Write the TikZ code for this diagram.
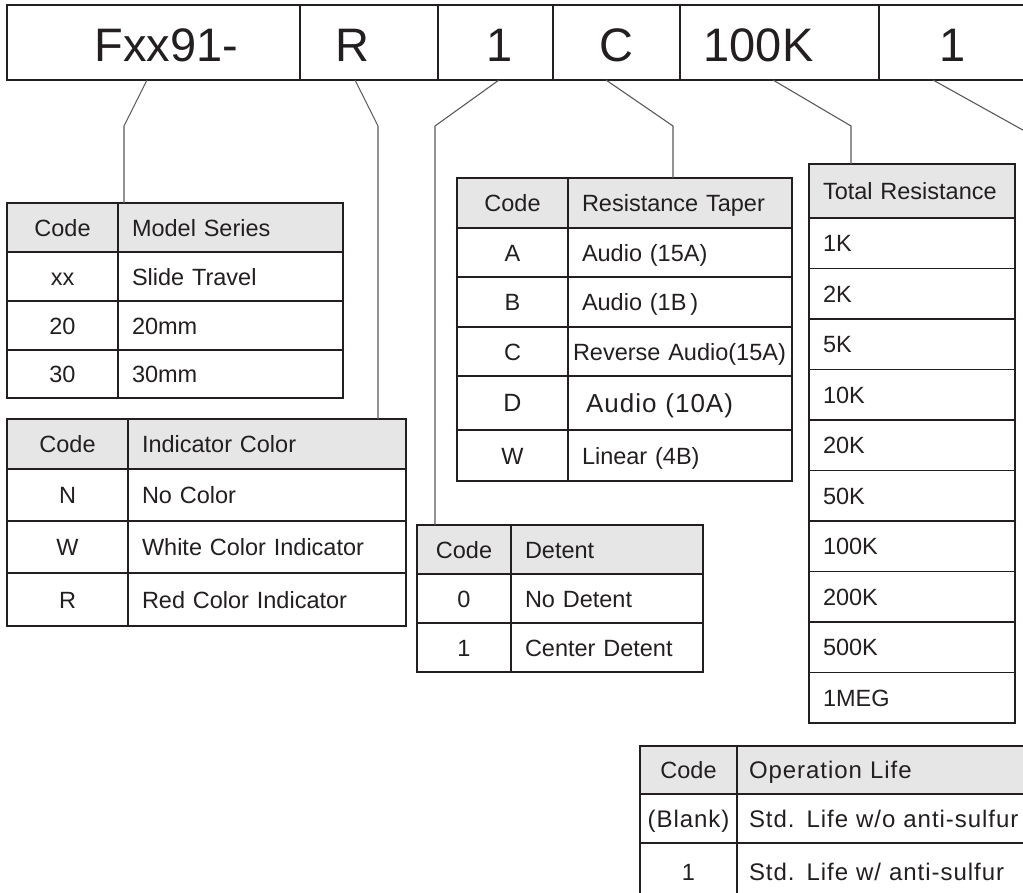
\documentclass[tikz,border=0pt]{standalone}
\usepackage{fontspec}
\setmainfont{Liberation Sans}
\newfontfamily\spacedfont[LetterSpace=4]{Liberation Sans}
\usetikzlibrary{positioning}
\definecolor{inkcol}{HTML}{231F20}
\definecolor{hdrcol}{HTML}{E6E6E6}
\definecolor{linkcol}{HTML}{5A5A5A}

\begin{document}
\begin{tikzpicture}[
  x=1pt, y=-1pt,
  seg/.style={draw=inkcol, line width=2.2pt, anchor=north west, inner sep=0pt,
    outer sep=0pt, minimum height=75pt, minimum width=#1},
  segtxt/.style={font=\fontsize{47}{50}\selectfont, text=inkcol, inner sep=0pt,
    text height=34pt, text depth=0pt},
  cell/.style={draw=inkcol, line width=1.8pt, anchor=north west, inner ysep=0pt,
    outer sep=0pt, text=inkcol, font=\fontsize{23.5}{26}\selectfont,
    text height=17pt, text depth=0pt},
  codec/.style 2 args={cell, inner xsep=0pt, minimum width=#1, minimum height=#2, align=center},
  descc/.style 2 args={cell, inner xsep=14pt, text width=#1, minimum height=#2, align=left},
  hdr/.style={fill=hdrcol},
  spaced/.style={font=\spacedfont\fontsize{24}{26}\selectfont},
  conn/.style={draw=linkcol, line width=1.1pt},
]
\useasboundingbox (0,0) rectangle (1023,892);
\fill[white] (0,0) rectangle (1023,892);
\clip (0,0) rectangle (1023,892);

% ============================================================
% PART NUMBER BAR
% ============================================================
\node[seg=293pt] (segA) at (7,5) {};
\node[seg=138pt] (segB) at (segA.north east) {};
\node[seg=115pt] (segC) at (segB.north east) {};
\node[seg=127pt] (segD) at (segC.north east) {};
\node[seg=199pt] (segE) at (segD.north east) {};
\node[seg=147pt] (segF) at (segE.north east) {};

\node[segtxt, xshift=13pt, yshift=-2pt] (tA) at (segA.center) {Fxx91-};
\node[segtxt, xshift=-16.5pt, yshift=-2pt] (tB) at (segB.center) {R};
\node[segtxt, xshift=4.5pt, yshift=-2pt] (tC) at (segC.center) {1};
\node[segtxt, yshift=-2pt] (tD) at (segD.center) {C};
\node[segtxt, xshift=-21pt, yshift=-2pt] (tE) at (segE.center) {100K};
\node[segtxt, yshift=-2pt] (tF) at (segF.center) {1};

% ============================================================
% MODEL SERIES / INDICATOR COLOR
% ============================================================
\node[codec={111pt}{49pt}, hdr] (msC0) at (7,203) {Code};
\node[descc={197pt}{49pt}, hdr] (msD0) at (msC0.north east) {Model Series};
\node[codec={111pt}{49pt}] (msC1) at (msC0.south west) {xx};
\node[descc={197pt}{49pt}] (msD1) at (msC1.north east) {Slide Travel};
\node[codec={111pt}{49pt}] (msC2) at (msC1.south west) {20};
\node[descc={197pt}{49pt}] (msD2) at (msC2.north east) {20mm};
\node[codec={111pt}{48pt}] (msC3) at (msC2.south west) {30};
\node[descc={197pt}{48pt}] (msD3) at (msC3.north east) {30mm};

\node[codec={121pt}{50pt}, hdr] (icC0) at (7,419) {Code};
\node[descc={250pt}{50pt}, hdr] (icD0) at (icC0.north east) {Indicator Color};
\node[codec={121pt}{52pt}] (icC1) at (icC0.south west) {N};
\node[descc={250pt}{52pt}] (icD1) at (icC1.north east) {No Color};
\node[codec={121pt}{52pt}] (icC2) at (icC1.south west) {W};
\node[descc={250pt}{52pt}] (icD2) at (icC2.north east) {White Color Indicator};
\node[codec={121pt}{53pt}] (icC3) at (icC2.south west) {R};
\node[descc={250pt}{53pt}] (icD3) at (icC3.north east) {Red Color Indicator};

% ============================================================
% RESISTANCE TAPER / DETENT
% ============================================================
\node[codec={111pt}{50pt}, hdr] (tpC0) at (457,178) {Code};
\node[descc={196pt}{50pt}, hdr] (tpD0) at (tpC0.north east) {Resistance Taper};
\node[codec={111pt}{49pt}] (tpC1) at (tpC0.south west) {A};
\node[descc={196pt}{49pt}] (tpD1) at (tpC1.north east) {Audio (15A)};
\node[codec={111pt}{50pt}] (tpC2) at (tpC1.south west) {B};
\node[descc={196pt}{50pt}] (tpD2) at (tpC2.north east) {Audio (1B\,)};
\node[codec={111pt}{49pt}] (tpC3) at (tpC2.south west) {C};
\node[descc={214pt}{49pt}, inner xsep=5pt, font=\fontsize{23.5}{26}\selectfont]
  (tpD3) at (tpC3.north east) {Reverse Audio(15A)};
\node[codec={111pt}{54pt}, font=\fontsize{25}{28}\selectfont] (tpC4) at (tpC3.south west) {D};
\node[descc={188pt}{54pt}, inner xsep=18pt, font=\spacedfont\fontsize{26}{28}\selectfont, text height=18.5pt]
  (tpD4) at (tpC4.north east) {Audio (10A)};
\node[codec={111pt}{51pt}] (tpC5) at (tpC4.south west) {W};
\node[descc={196pt}{51pt}] (tpD5) at (tpC5.north east) {Linear (4B)};

\node[codec={94pt}{49pt}, hdr] (dtC0) at (417,525) {Code};
\node[descc={164pt}{49pt}, hdr] (dtD0) at (dtC0.north east) {Detent};
\node[codec={94pt}{49pt}] (dtC1) at (dtC0.south west) {0};
\node[descc={164pt}{49pt}] (dtD1) at (dtC1.north east) {No Detent};
\node[codec={94pt}{49pt}] (dtC2) at (dtC1.south west) {1};
\node[descc={164pt}{49pt}] (dtD2) at (dtC2.north east) {Center Detent};

% ============================================================
% TOTAL RESISTANCE
% ============================================================
\node[descc={178pt}{54pt}, hdr] (trR0) at (809,164) {Total Resistance};
\foreach \val [count=\i, remember=\i as \j (initially 0)] in
  {1K,2K,5K,10K,20K,50K,100K,200K,500K,1MEG}
  \node[descc={178pt}{50.5pt}] (trR\i) at (trR\j.south west) {\val};

% ============================================================
% OPERATION LIFE
% ============================================================
\node[codec={97pt}{48pt}, hdr] (olC0) at (640,746) {Code};
\node[descc={279pt}{48pt}, hdr, spaced, inner xsep=12pt] (olD0) at (olC0.north east) {Operation Life};
\node[codec={97pt}{49pt}, spaced] (olC1) at (olC0.south west) {(Blank)};
\node[descc={279pt}{49pt}, spaced, inner xsep=12pt] (olD1) at (olC1.north east) {Std. Life w/o anti-sulfur};
\node[codec={97pt}{54pt}, text height=20pt] (olC2) at (olC1.south west) {1};
\node[descc={279pt}{54pt}, spaced, inner xsep=12pt, text height=20pt] (olD2) at (olC2.north east) {Std. Life w/ anti-sulfur};

% ============================================================
% CONNECTORS
% ============================================================
\coordinate (bA) at (124,126);
\coordinate (bB) at (378,126);
\coordinate (bC) at (435,126);
\coordinate (bD) at (673,126);
\coordinate (bE) at (851,126);
\coordinate (bF) at (1030,134);

\draw[conn] ([xshift=-6.5pt]segA.south) -- (bA) -- (bA |- msD0.north);
\draw[conn] ([xshift=-14pt]segB.south) -- (bB) -- (bB |- icD0.north);
\draw[conn] ([xshift=3.5pt]segC.south) -- (bC) -- (bC |- dtC0.north);
\draw[conn] ([xshift=-10.5pt]segD.south) -- (bD) -- (bD |- tpD0.north);
\draw[conn] ([xshift=-6.5pt]segE.south) -- (bE) -- (bE |- trR0.north);
\draw[conn] ([xshift=-19.5pt]segF.south) -- (bF);

\end{tikzpicture}
\end{document}
